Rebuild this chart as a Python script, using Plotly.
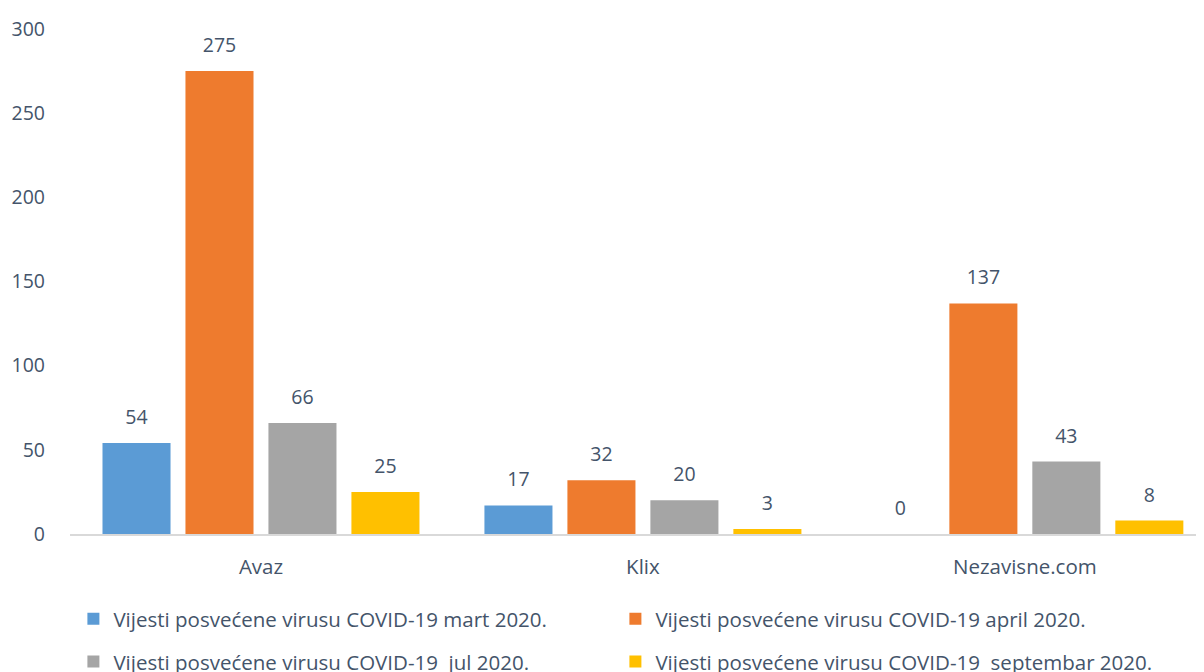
import plotly.graph_objects as go

categories = ["Avaz", "Klix", "Nezavisne.com"]
series_names = [
    "Vijesti posvećene virusu COVID-19 mart 2020.",
    "Vijesti posvećene virusu COVID-19 april 2020.",
    "Vijesti posvećene virusu COVID-19  jul 2020.",
    "Vijesti posvećene virusu COVID-19  septembar 2020.",
]
mart = [54, 17, 0]
april = [275, 32, 137]
jul = [66, 20, 43]
septembar = [25, 3, 8]
y_ticks = [0, 50, 100, 150, 200, 250, 300]

colors = ["#5B9BD5", "#EE7B2E", "#A5A5A5", "#FFC000"]
legends = ["legend", "legend", "legend2", "legend2"]
TXT = "#44546A"
FONT = "Open Sans"

fig = go.Figure()
for i, (name, vals, col, lg) in enumerate(zip(series_names, [mart, april, jul, septembar], colors, legends)):
    fig.add_trace(go.Bar(
        x=categories, y=vals, name=name, marker=dict(color=col, line=dict(width=0)),
        offsetgroup=str(i), legend=lg, hoverinfo="skip",
    ))
for i, vals in enumerate([mart, april, jul, septembar]):
    fig.add_trace(go.Scatter(
        x=categories, y=vals, mode="markers+text", offsetgroup=str(i),
        marker=dict(size=21, color="rgba(0,0,0,0)"),
        text=[str(v) for v in vals], textposition="top center", cliponaxis=False,
        textfont=dict(family=FONT, size=19.5, color=TXT), showlegend=False, hoverinfo="skip",
    ))

fig.update_layout(
    width=1196, height=664,
    margin=dict(l=62, r=0, t=21, b=138, autoexpand=False),
    plot_bgcolor="white", paper_bgcolor="white",
    barmode="group", bargap=0.131, bargroupgap=0.18,
    scattermode="group", scattergap=0.131,
    font=dict(family=FONT, size=18, color=TXT),
    xaxis=dict(range=[-0.5, 2.469], showgrid=False, showline=True, linecolor="#D9D9D9",
               linewidth=2, ticks="", ticklabelstandoff=13, tickfont=dict(size=20.5, color=TXT)),
    yaxis=dict(range=[0, 300], tickvals=y_ticks, showgrid=False, zeroline=False,
               showline=False, ticks="", ticklabelstandoff=24,
               tickfont=dict(size=19.5, color=TXT)),
    showlegend=True,
    legend=dict(orientation="h", x=0.003, xanchor="left", y=-0.168, yanchor="middle",
                entrywidth=497, entrywidthmode="pixels", font=dict(size=20.5, color=TXT),
                itemwidth=30, traceorder="normal"),
    legend2=dict(orientation="h", x=0.003, xanchor="left", y=-0.253, yanchor="middle",
                 entrywidth=497, entrywidthmode="pixels", font=dict(size=20.5, color=TXT),
                 itemwidth=30, traceorder="normal"),
)

fig.write_html("out.html")
